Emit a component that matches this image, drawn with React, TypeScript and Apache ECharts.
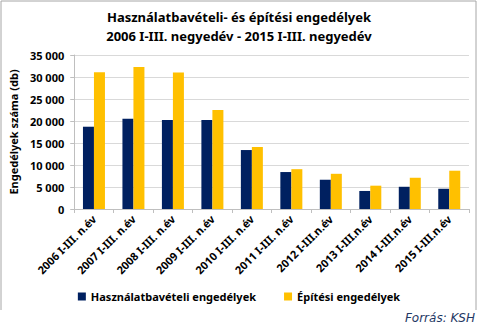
import React, { useEffect, useRef } from "react";
import * as echarts from "echarts";

const categories = [
  "2006 I-III. n.év",
  "2007 I-III. n.év",
  "2008 I-III. n.év",
  "2009 I-III. n.év",
  "2010 I-III. n.év",
  "2011 I-III. n.év",
  "2012 I-III.n.év",
  "2013 I-III.n.év",
  "2014 I-III.n.év",
  "2015 I-III.n.év",
];
const hasznalatbaveteli = [18700, 20500, 20250, 20200, 13400, 8400, 6650, 4100, 5050, 4600];
const epitesi = [31100, 32300, 31050, 22500, 14100, 9050, 8000, 5300, 7100, 8700];
const seriesNames = ["Használatbavételi engedélyek", "Építési engedélyek"];
const titleLines = ["Használatbavételi- és építési engedélyek", "2006 I-III. negyedév - 2015 I-III. negyedév"];
const yAxisName = "Engedélyek száma (db)";
const sourceText = "Forrás: KSH";

const FONT = "Noto Sans";

export default function App() {
  const ref = useRef<HTMLDivElement>(null);
  useEffect(() => {
    if (!ref.current) return;
    const chart = echarts.init(ref.current, null, { renderer: "svg" });
    chart.setOption({
      animation: false,
      backgroundColor: "#ffffff",
      title: {
        text: titleLines.join("\n"),
        left: "center",
        top: 2,
        textStyle: { fontFamily: FONT, fontWeight: "bold", fontSize: 13, lineHeight: 19, color: "#000" },
      },
      grid: { left: 74, right: 9, top: 55, bottom: 121, containLabel: false },
      legend: {
        data: seriesNames,
        left: "center",
        top: 286,
        icon: "rect",
        itemWidth: 8,
        itemHeight: 8,
        itemGap: 28,
        textStyle: { fontFamily: FONT, fontWeight: "bold", fontSize: 11, color: "#000" },
      },
      xAxis: {
        type: "category",
        data: categories,
        axisLine: { lineStyle: { color: "#bfbfbf" } },
        axisTick: { show: true, length: 4, lineStyle: { color: "#bfbfbf" } },
        axisLabel: {
          interval: 0,
          rotate: 45,
          margin: 8,
          fontFamily: FONT,
          fontWeight: "bold",
          fontSize: 11,
          color: "#000",
        },
      },
      yAxis: {
        type: "value",
        min: 0,
        max: 35000,
        interval: 5000,
        name: yAxisName,
        nameLocation: "middle",
        nameGap: 47,
        nameTextStyle: { fontFamily: FONT, fontWeight: "bold", fontSize: 11, color: "#000" },
        axisLine: { show: true, lineStyle: { color: "#bfbfbf" } },
        axisTick: { show: true, length: 4, lineStyle: { color: "#bfbfbf" } },
        splitLine: { lineStyle: { color: "#d9d9d9" } },
        axisLabel: {
          margin: 10,
          fontFamily: FONT,
          fontWeight: "bold",
          fontSize: 11,
          color: "#000",
          formatter: (v: number) => String(v).replace(/\B(?=(\d{3})+(?!\d))/g, " "),
        },
      },
      series: [
        {
          name: seriesNames[0],
          type: "bar",
          data: hasznalatbaveteli,
          barWidth: 11,
          barGap: "0%",
          itemStyle: { color: "#002060" },
        },
        {
          name: seriesNames[1],
          type: "bar",
          data: epitesi,
          barWidth: 11,
          barGap: "0%",
          itemStyle: { color: "#ffc000" },
        },
      ],
      graphic: [
        {
          type: "polyline",
          shape: { points: [[1, 310], [1, 1], [476, 1], [476, 310]] },
          style: { stroke: "#a6a6a6", fill: "none", lineWidth: 1 },
          silent: true,
        },
        {
          type: "text",
          right: 3,
          top: 312,
          style: {
            text: sourceText,
            font: "italic 12px 'DejaVu Sans'",
            fill: "#1f3864",
          },
        },
      ],
    });
    return () => chart.dispose();
  }, []);
  return <div ref={ref} style={{ position: "absolute", left: 0, top: 0, width: 478, height: 330 }} />;
}
